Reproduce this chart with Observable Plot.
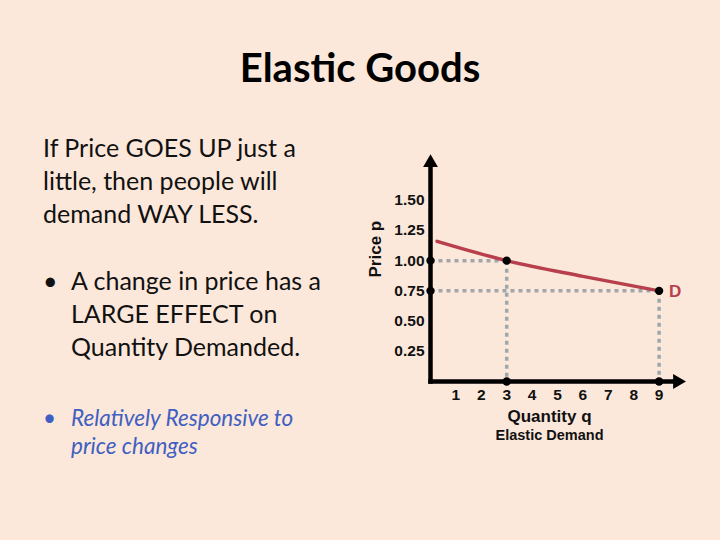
<!DOCTYPE html>
<html>
<head>
<meta charset="utf-8">
<script src="https://cdn.jsdelivr.net/npm/d3@7"></script>
<script src="https://cdn.jsdelivr.net/npm/@observablehq/plot@0.6"></script>
<style>
  html, body { margin: 0; padding: 0; }
  body { width: 720px; height: 540px; background: #FCE8DA; position: relative; overflow: hidden; font-family: Lato, "Open Sans", sans-serif; }
  .title { position: absolute; left: 0; width: 720px; top: 43px; text-align: center; font-size: 40px; font-weight: bold; color: #000; }
  .txt { position: absolute; color: #111; font-size: 25px; line-height: 33px; }
  .blue { color: #3F5FC2; font-style: italic; font-size: 22.5px; line-height: 28px; }
  #chart { position: absolute; left: 360px; top: 140px; }
</style>
</head>
<body>
<div class="title">Elastic Goods</div>
<div class="txt" style="left:43px; top:131px;">If Price GOES UP just a<br>little, then people will<br>demand WAY LESS.</div>
<div class="txt" style="left:43px; top:264px;">•</div>
<div class="txt" style="left:71px; top:264px;">A change in price has a<br>LARGE EFFECT on<br>Quantity Demanded.</div>
<div class="txt blue" style="left:43px; top:404px; font-style:normal;">•</div>
<div class="txt blue" style="left:71px; top:404px;">Relatively Responsive to<br>price changes</div>
<div id="chart"></div>
<script>
// Data
const qTicks = [1, 2, 3, 4, 5, 6, 7, 8, 9];
const pTicks = [0.25, 0.50, 0.75, 1.00, 1.25, 1.50];
const demandQ = [0.26, 3, 6, 9];
const demandP = [1.16, 1.00, 0.87, 0.75];
const markedQ = [3, 9];
const markedP = [1.00, 0.75];

const demand = demandQ.map((q, i) => ({q, p: demandP[i]}));
const marked = markedQ.map((q, i) => ({q, p: markedP[i]}));
const guides = marked.flatMap(d => [
  {q1: 0, p1: d.p, q2: d.q, p2: d.p},
  {q1: d.q, p1: d.p, q2: d.q, p2: 0}
]);
const dots = marked.flatMap(d => [d, {q: 0, p: d.p}, {q: d.q, p: 0}]);

const red = "#B83F4C";
const chart = Plot.plot({
  width: 340,
  height: 310,
  marginLeft: 70,
  marginRight: 16,
  marginTop: 15,
  marginBottom: 69,
  x: {domain: [0, 10]},
  y: {domain: [0, 1.87]},
  style: {background: "transparent", fontFamily: "'Liberation Sans', Arial, sans-serif", fontWeight: "bold", fontSize: "15px", color: "#111"},
  marks: [
    Plot.link(guides, {x1: "q1", y1: "p1", x2: "q2", y2: "p2", stroke: "#A0A6A9", strokeWidth: 3.5, strokeDasharray: "4,4"}),
    Plot.line(demand, {x: "q", y: "p", stroke: red, strokeWidth: 3.5, curve: "monotone-x"}),
    Plot.link([{x1: 0, y1: 0, x2: 9.6, y2: 0}, {x1: 0, y1: 0, x2: 0, y2: 1.78}], {x1: "x1", y1: "y1", x2: "x2", y2: "y2", stroke: "#000", strokeWidth: 4.5, strokeLinecap: "square"}),
    Plot.dot([{q: 9.72, p: 0}], {x: "q", y: "p", symbol: "triangle", r: 5.5, rotate: 90, fill: "#000", stroke: "none"}),
    Plot.dot([{q: 0, p: 1.81}], {x: "q", y: "p", symbol: "triangle", r: 5.5, fill: "#000", stroke: "none"}),
    Plot.dot(dots, {x: "q", y: "p", r: 4.2, fill: "#000"}),
    Plot.axisX({ticks: qTicks, tickSize: 0, tickPadding: 7, fontSize: 15.5, fontWeight: "bold", label: null}),
    Plot.axisY({ticks: pTicks, tickSize: 0, tickPadding: 6, tickFormat: d3.format(".2f"), fontSize: 15.5, fontWeight: "bold", label: null}),
    Plot.text(["Price p"], {frameAnchor: "left", rotate: -90, dx: -55, dy: 9, fontSize: 17, fontWeight: "bold"}),
    Plot.text(["Quantity q"], {frameAnchor: "bottom", dx: -8, dy: 40, fontSize: 17, fontWeight: "bold"}),
    Plot.text(["Elastic Demand"], {frameAnchor: "bottom", dx: -8, dy: 58, fontSize: 14.5, fontWeight: "bold"}),
    Plot.text([marked[1]], {x: "q", y: "p", text: () => "D", dx: 16, dy: 1, fill: red, fontSize: 17, fontWeight: "bold"})
  ]
});
document.getElementById("chart").appendChild(chart);
</script>
</body>
</html>
